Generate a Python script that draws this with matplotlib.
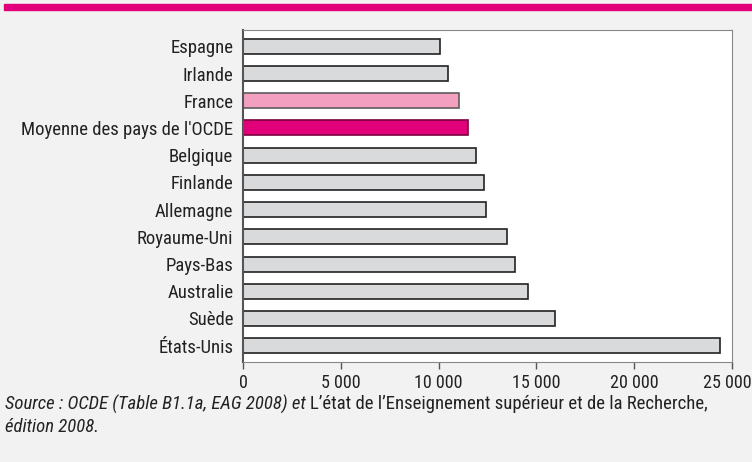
import matplotlib.pyplot as plt
from matplotlib import font_manager
from matplotlib.patches import Rectangle
from matplotlib.transforms import ScaledTranslation

pays = ["Espagne", "Irlande", "France", "Moyenne des pays de l'OCDE", "Belgique",
        "Finlande", "Allemagne", "Royaume-Uni", "Pays-Bas", "Australie", "Suède",
        "États-Unis"]
depense = [10080, 10460, 11020, 11480, 11930, 12330, 12440, 13510, 13920, 14590,
           15930, 24380]
ticks = [0, 5000, 10000, 15000, 20000, 25000]
tick_labels = ["0", "5 000", "10 000", "15 000", "20 000", "25 000"]

# police étroite si disponible (l'original est en Univers Condensed)
polices = font_manager.fontManager.ttflist
noms = {f.name for f in polices}
famille, etirement, taille = "DejaVu Sans", "normal", 10.5
for nom in ["Roboto Condensed", "Liberation Sans Narrow", "Open Sans Condensed"]:
    if nom in noms:
        famille, taille = nom, 13.5
        break
else:
    if any(f.name == "DejaVu Sans" and "Condensed" in f.fname for f in polices):
        famille, etirement, taille = "DejaVu Sans", "condensed", 11.5
    elif "Roboto" in noms:
        famille, taille = "Roboto", 11
plt.rcParams['font.family'] = [famille, 'DejaVu Sans']
plt.rcParams['font.stretch'] = etirement

couleurs = []
bords = []
for p in pays:
    if p == "France":
        couleurs.append("#f29fc0")
        bords.append("#5c5c5c")
    elif p.startswith("Moyenne"):
        couleurs.append("#e2007a")
        bords.append("#7a0040")
    else:
        couleurs.append("#d9dadb")
        bords.append("#222222")

fig = plt.figure(figsize=(7.52, 4.62), dpi=100, facecolor="#f2f2f2")
fig.patches.append(Rectangle((4 / 752, 1 - 9.5 / 462), 748 / 752, 5.5 / 462,
                             transform=fig.transFigure, color="#e2007a", zorder=5))

ax = fig.add_axes([243 / 752, 1 - 362 / 462, 489 / 752, 332 / 462])
ax.set_facecolor("white")
ax.barh(range(len(pays)), depense, height=0.55, color=couleurs, edgecolor=bords,
        linewidth=1.2)
ax.set_xlim(0, 25000)
ax.set_ylim(len(pays) - 0.4, -0.6)
ax.set_yticks(range(len(pays)))
ax.set_yticklabels(pays, fontsize=taille, color="#222222")
ax.tick_params(axis='y', length=0, pad=7)
ax.set_xticks(ticks)
ax.set_xticklabels(tick_labels, fontsize=taille - 0.5, color="#222222")
ax.tick_params(axis='x', direction='out', length=5, width=1, color="#555555", pad=4)
# le dernier libellé touche le bord droit : on le décale un peu vers la gauche
dernier = ax.get_xticklabels()[-1]
dernier.set_transform(dernier.get_transform()
                      + ScaledTranslation(-5 / 100, 0, fig.dpi_scale_trans))
for s in ["top", "right", "bottom"]:
    ax.spines[s].set_color("#888888")
ax.spines["left"].set_color("#555555")
ax.spines["left"].set_linewidth(1.5)

fig.text(5 / 752, 1 - 404 / 462, "Source : OCDE (Table B1.1a, EAG 2008) et ",
         fontsize=taille, style="italic", va="center", color="#222222")
fig.canvas.draw()
bb = fig.texts[-1].get_window_extent()
fig.text(bb.x1 / 752, 1 - 404 / 462,
         "L\u2019état de l\u2019Enseignement supérieur et de la Recherche,",
         fontsize=taille, va="center", color="#222222")
fig.text(5 / 752, 1 - 427 / 462, "édition 2008.", fontsize=taille, style="italic",
         va="center", color="#222222")

fig.savefig("out.png", dpi=100, facecolor=fig.get_facecolor())
